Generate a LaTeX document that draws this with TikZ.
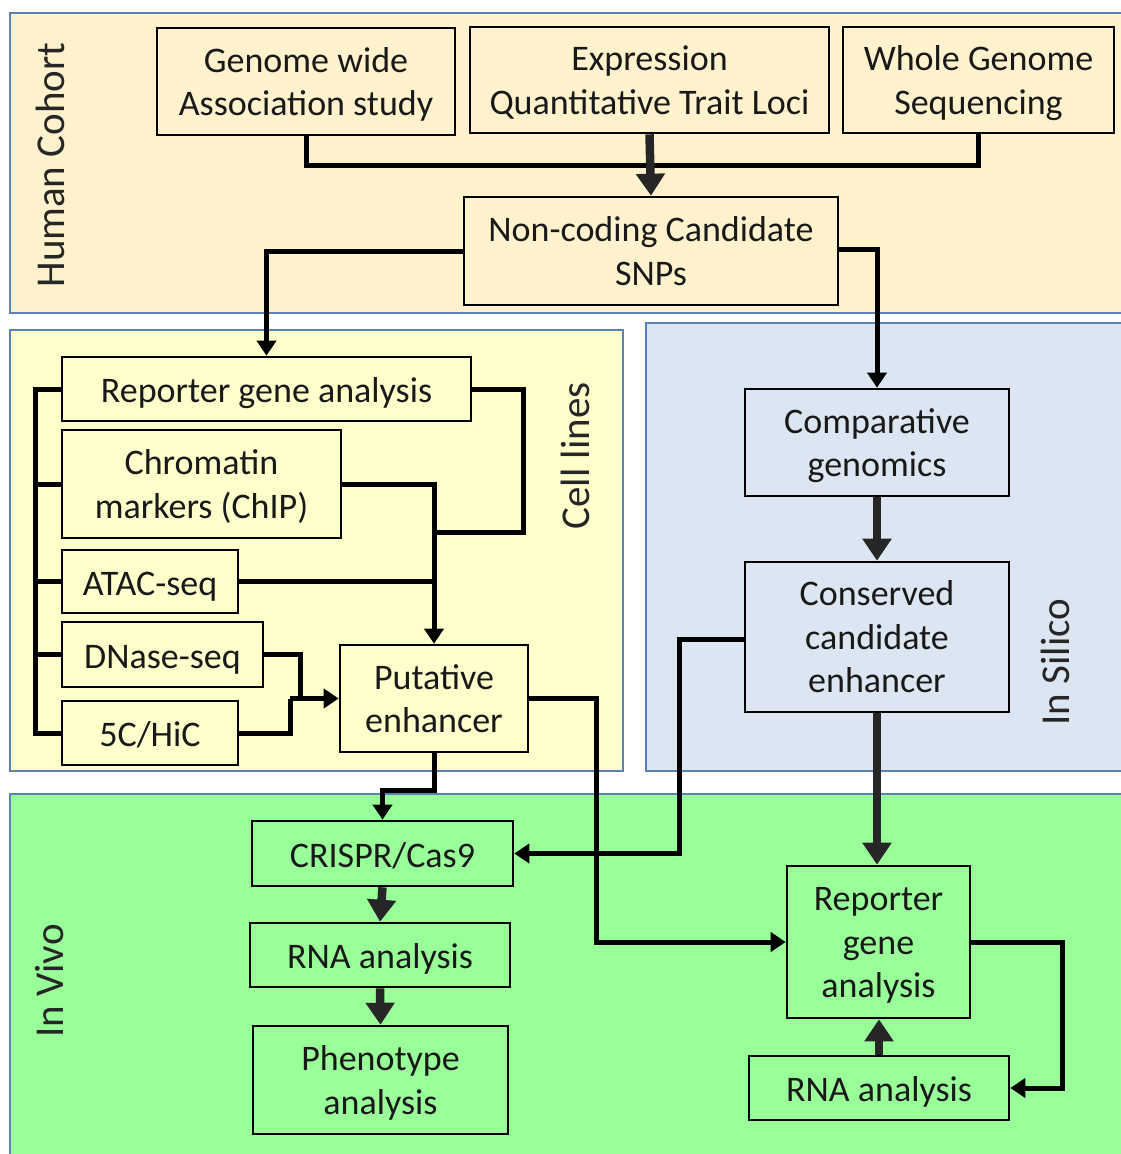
\documentclass[tikz,border=0pt]{standalone}
\usepackage{fontspec}
\setmainfont{Carlito}
\usetikzlibrary{arrows.meta}
\definecolor{hcf}{HTML}{FFF2CC}
\definecolor{clf}{HTML}{FFFFCC}
\definecolor{isf}{HTML}{DCE6F2}
\definecolor{ivf}{HTML}{99FF99}
\definecolor{pbd}{HTML}{5A82B4}
\definecolor{dk}{HTML}{262626}
\newcommand{\mtop}{\rule{0pt}{34.5pt}}
\newcommand{\mbot}{\rule[-10pt]{0pt}{10pt}}
\tikzset{
  panel/.style={draw=pbd, line width=2pt},
  mbox/.style={draw=black, line width=2.6pt, fill=#1, align=center, inner sep=0pt,
    font=\fontsize{36}{43.5}\selectfont, text=black!90},
  box/.style={mbox=#1,
    execute at begin node={\rule{0pt}{37pt}},
    execute at end node={\rule[-10pt]{0pt}{10pt}}},
  lbl/.style={font=\fontsize{41}{43}\selectfont, text=black!85, rotate=90},
  ln/.style={draw=black, line width=5pt},
  lna/.style={ln, -{Triangle[length=15pt,width=19pt]}},
  thk/.style={draw=dk, line width=8.5pt, -{Triangle[length=22pt,width=28pt]}},
}
\begin{document}
\begin{tikzpicture}[x=1pt,y=-1pt]
\useasboundingbox (0,0) rectangle (1121,1154);
\fill[white] (0,0) rectangle (1121,1154);
% panels
\draw[panel, fill=hcf] (10,13) rectangle (1125,313);
\draw[panel, fill=clf] (10,330) rectangle (623,771);
\draw[panel, fill=isf] (646,323) rectangle (1125,771);
\draw[panel, fill=ivf] (10,794) rectangle (1125,1160);
% panel labels
\node[lbl] (lhc) at (50,165) {Human Cohort};
\node[lbl] (lcl) at (575,456) {Cell lines};
\node[lbl] (lis) at (1055,662) {In Silico};
\node[lbl] (liv) at (50,981) {In Vivo};
% human cohort nodes
\node[mbox=hcf, minimum width=298pt, minimum height=107pt] (gwas) at (306,81.5) {\mtop Genome wide\\Association study\mbot};
\node[mbox=hcf, minimum width=359pt, minimum height=106pt] (eqtl) at (649.5,80) {\mtop Expression\\Quantitative Trait Loci\mbot};
\node[mbox=hcf, minimum width=271pt, minimum height=106pt] (wgs) at (978.5,80) {\mtop Whole Genome\\Sequencing\mbot};
\node[mbox=hcf, minimum width=374pt, minimum height=108pt] (nc) at (651,251) {\mtop Non-coding Candidate\\SNPs\mbot};
% cell lines nodes
\node[box=clf, minimum width=409pt, minimum height=64pt] (rga) at (266.5,389) {Reporter gene analysis};
\node[mbox=clf, minimum width=279pt, minimum height=108pt] (chip) at (201.5,484) {\mtop Chromatin\\markers (ChIP)\mbot};
\node[box=clf, minimum width=176pt, minimum height=63pt] (atac) at (150,581.5) {ATAC-seq};
\node[box=clf, minimum width=201pt, minimum height=65pt] (dnase) at (162.5,654.5) {DNase-seq};
\node[box=clf, minimum width=176pt, minimum height=64pt] (hic) at (150,733) {5C/HiC};
\node[mbox=clf, minimum width=188pt, minimum height=107pt] (pe) at (434,698.5) {\mtop Putative\\enhancer\mbot};
% in silico nodes
\node[mbox=isf, minimum width=264pt, minimum height=107pt] (cg) at (877,442.5) {\mtop Comparative\\genomics\mbot};
\node[mbox=isf, minimum width=264pt, minimum height=150pt] (cce) at (877,637) {\mtop Conserved\\candidate\\enhancer\mbot};
% in vivo nodes
\node[box=ivf, minimum width=261pt, minimum height=65pt] (crispr) at (382.5,853.5) {CRISPR/Cas9};
\node[box=ivf, minimum width=260pt, minimum height=64pt] (rna1) at (380,955) {RNA analysis};
\node[mbox=ivf, minimum width=255pt, minimum height=108pt] (phen) at (380.5,1080) {\mtop Phenotype\\analysis\mbot};
\node[mbox=ivf, minimum width=183pt, minimum height=152pt] (rv) at (878.5,942) {\mtop Reporter\\gene\\analysis\mbot};
\node[box=ivf, minimum width=260pt, minimum height=64pt] (rna2) at (879,1088) {RNA analysis};
% helper coordinates
\coordinate (hj) at (0,165);
\coordinate (bus) at (35,0);
\coordinate (rr) at (523,532);
\coordinate (dx) at (300,0);
\coordinate (hx) at (290,0);
\coordinate (pd) at (0,790);
\coordinate (px) at (596,0);
\coordinate (cx) at (679,0);
\coordinate (rx) at (1062,0);
% human cohort connectors
\draw[ln] (gwas.south) -- (gwas.south |- hj) -- (wgs.south |- hj) -- (wgs.south);
\draw[thk] (eqtl.south) -- (nc.north);
\draw[lna] (nc.west) -| (rga.north);
\draw[lna] ([yshift=2pt]nc.east) -| (cg.north);
% cell line connectors
\draw[ln] (rga.west) -- (rga.west -| bus) -- (hic.west -| bus) -- (hic.west);
\draw[ln] (chip.west) -- (chip.west -| bus);
\draw[ln] (atac.west) -- (atac.west -| bus);
\draw[ln] (dnase.west) -- (dnase.west -| bus);
\draw[ln] (rga.east) -| (rr) -- (pe.north |- rr);
\draw[lna] (chip.east) -| (pe.north);
\draw[ln] (atac.east) -- (atac.east -| pe.north);
\draw[ln] (dnase.east) -| (dx |- pe.west);
\draw[ln] (hic.east) -| (hx |- pe.west);
\draw[lna] (hx |- pe.west) -- (pe.west);
\draw[lna] (pe.south) -- (pe.south |- pd) -| (crispr.north);
\draw[lna] (pe.east) -| (px |- rv.west) -- (rv.west);
% in silico connectors
\draw[thk] (cg.south) -- (cce.north);
\draw[lna] ([yshift=-2pt]cce.west) -| (cx |- crispr.east) -- (crispr.east);
\draw[thk] (cce.south) -- (cce.south |- rv.north);
% in vivo connectors
\draw[thk] (crispr.south) -- (rna1.north);
\draw[thk] (rna1.south) -- (phen.north);
\draw[lna] (rv.east) -| (rx |- rna2.east) -- (rna2.east);
\draw[thk] (rna2.north) -- (rna2.north |- rv.south);
\end{tikzpicture}
\end{document}
